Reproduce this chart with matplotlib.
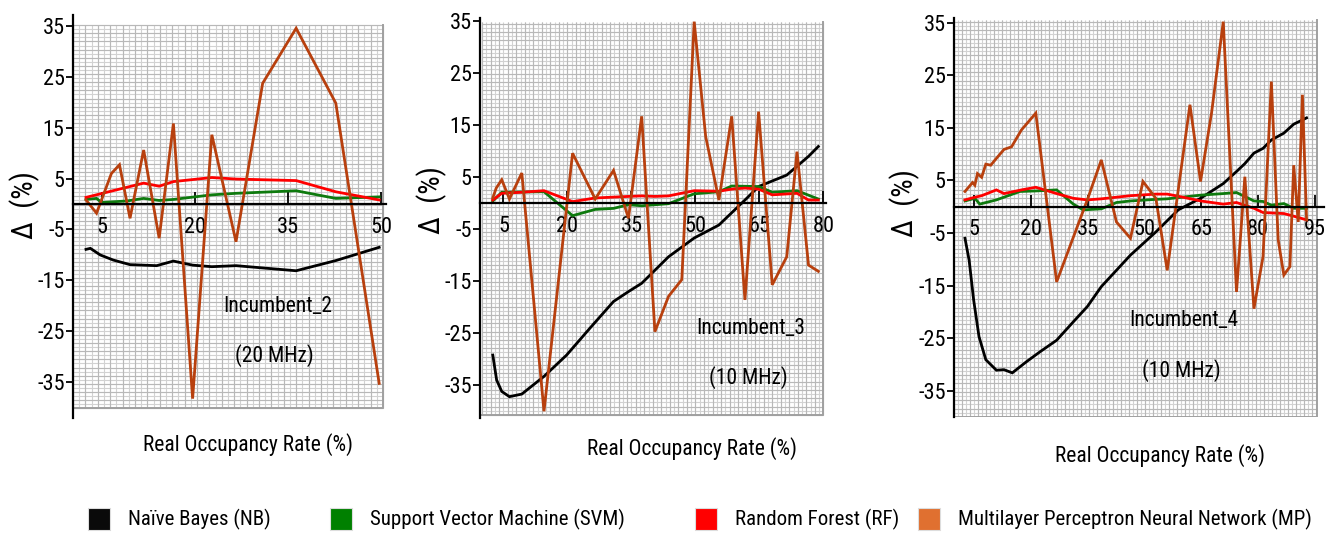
import numpy as np
import matplotlib
matplotlib.use("Agg")
import matplotlib.pyplot as plt
from matplotlib.patches import Rectangle

plt.rcParams['font.family'] = ['Roboto Condensed', 'Archivo Narrow', 'PT Sans Narrow',
                               'DejaVu Sans']

# Incumbent_2 (20 MHz)
p1_nb_x = [2.4, 3.1, 4.7, 6.8, 9.5, 13.8, 16.5, 19.6, 22.7, 26.6, 36.3, 42.7, 49.7]
p1_nb_y = [-8.9, -8.7, -10.0, -11.0, -11.9, -12.1, -11.2, -12.0, -12.3, -12.1, -13.1, -11.1, -8.5]
p1_svm_x = [2.4, 4.1, 4.9, 9.0, 11.7, 14.2, 16.5, 22.7, 26.6, 36.3, 42.7, 49.7]
p1_svm_y = [0.9, 1.1, 0.3, 0.6, 1.1, 0.7, 0.9, 1.8, 2.1, 2.6, 1.1, 1.4]
p1_rf_x = [2.4, 11.7, 14.2, 16.5, 22.7, 26.6, 36.3, 42.7, 49.7]
p1_rf_y = [1.3, 4.1, 3.5, 4.4, 5.2, 4.9, 4.6, 2.4, 0.8]
p1_mp_x = [2.4, 4.1, 6.5, 7.8, 9.5, 11.7, 14.2, 16.5, 19.6, 22.7, 26.6, 30.9, 36.3, 42.7, 49.7]
p1_mp_y = [0.8, -1.8, 6.0, 7.7, -2.8, 10.6, -6.7, 15.8, -38.2, 13.6, -7.4, 23.7, 34.5, 19.8, -35.2]

# Incumbent_3 (10 MHz)
p2_nb_x = [2.5, 3.4, 4.6, 6.4, 9.3, 14.5, 19.8, 25.3, 30.8, 34.3, 37.4, 43.7, 49.7,
           55.5, 61.6, 64.8, 71.4, 76.5, 78.8]
p2_nb_y = [-29.2, -34.0, -36.2, -37.2, -36.7, -33.3, -29.2, -24.0, -18.9, -17.0, -15.4,
           -10.3, -6.7, -4.2, 0.6, 3.2, 5.4, 9.0, 10.9]
p2_svm_x = [2.5, 4.6, 14.5, 21.2, 26.5, 30.8, 34.3, 37.4, 43.7, 49.7, 55.5, 58.5, 64.8,
            68.0, 73.8, 78.8]
p2_svm_y = [0.4, 2.1, 2.2, -2.4, -1.2, -1.0, -0.3, -0.5, -0.1, 1.8, 2.2, 3.3, 3.2,
            2.1, 2.4, 0.8]
p2_rf_x = [2.5, 4.6, 9.3, 14.5, 21.2, 26.5, 34.3, 37.4, 40.5, 43.7, 49.7, 55.5, 58.5,
           61.6, 64.8, 68.0, 73.8, 76.5, 78.8]
p2_rf_y = [0.6, 1.9, 2.1, 2.4, 0.3, 1.0, 1.3, 1.4, 1.3, 1.4, 2.4, 2.3, 2.7,
           2.9, 2.7, 1.6, 1.9, 0.6, 0.6]
p2_mp_x = [2.5, 3.3, 4.6, 6.4, 9.3, 14.5, 21.2, 26.5, 30.8, 34.3, 37.4, 40.5, 43.7,
           46.8, 49.7, 52.4, 55.5, 58.5, 61.6, 64.8, 68.0, 71.4, 73.8, 76.5, 78.8]
p2_mp_y = [1.0, 2.9, 4.5, 0.8, 5.8, -40.0, 9.6, 0.8, 6.3, -2.9, 16.7, -24.7, -17.9,
           -14.7, 34.9, 12.8, 0.6, 16.7, -18.6, 17.6, -15.7, -10.3, 9.9, -11.9, -13.1]

# Incumbent_4 (10 MHz)
p3_nb_x = [2.6, 3.7, 4.9, 6.3, 8.1, 10.9, 12.9, 15.1, 18.8, 22.4, 26.8, 31.2, 34.9,
           38.6, 46.3, 53.0, 58.9, 64.8, 70.8, 74.3, 76.5, 78.9, 81.3, 83.5, 86.8,
           89.4, 92.8]
p3_nb_y = [-6.0, -10.2, -17.8, -24.7, -29.1, -31.1, -31.0, -31.6, -29.5, -27.6, -25.4,
           -21.9, -19.0, -15.2, -9.2, -4.8, -0.6, 1.6, 4.4, 6.7, 8.2, 10.2, 11.1,
           12.7, 14.0, 15.7, 16.9]
p3_svm_x = [2.6, 5.2, 6.5, 10.9, 17.1, 21.3, 26.8, 31.2, 33.8, 38.6, 42.6, 46.3, 53.0,
            56.0, 64.8, 70.8, 74.3, 78.9, 81.3, 83.5, 86.8, 89.4, 92.8]
p3_svm_y = [1.1, 1.6, 0.5, 1.3, 2.9, 3.0, 3.2, 0.5, -0.6, -0.4, 0.8, 1.1, 1.4,
            1.5, 2.2, 2.5, 2.7, 1.1, 1.0, 0.3, 0.6, -0.3, -0.3]
p3_rf_x = [2.6, 5.2, 7.0, 10.9, 12.9, 17.5, 21.3, 26.8, 31.2, 34.9, 38.6, 46.3, 53.0,
           56.0, 58.9, 64.8, 70.8, 74.3, 78.9, 81.3, 86.8, 89.4, 92.8]
p3_rf_y = [1.3, 1.8, 2.1, 3.2, 2.5, 3.2, 3.7, 2.5, 1.6, 1.3, 1.5, 2.1, 2.4,
           2.4, 2.0, 1.1, 0.5, 0.8, -0.3, -1.1, -1.3, -1.8, -2.5]
p3_mp_x = [2.6, 4.6, 5.2, 5.9, 7.0, 8.1, 9.4, 10.9, 12.9, 14.9, 17.5, 21.3, 26.8, 34.9,
           38.6, 42.6, 46.3, 49.6, 53.0, 56.0, 62.0, 64.8, 67.7, 70.8, 74.3, 76.5,
           78.9, 81.3, 83.5, 85.3, 86.8, 88.4, 89.4, 90.6, 91.7, 92.8]
p3_mp_y = [2.9, 4.6, 4.1, 6.3, 5.6, 8.1, 7.9, 9.2, 10.9, 11.4, 14.6, 17.8, -14.3, 1.3,
           8.9, -2.9, -6.0, 4.8, 1.6, -12.1, 19.4, 4.8, 17.8, 35.2, -16.2, 5.7,
           -19.4, -9.5, 23.8, -6.3, -13.0, -11.4, 7.9, -2.9, 21.3, -2.5]

ytick_vals = [35, 25, 15, 5, -5, -15, -25, -35]

series_names = ['Naïve Bayes (NB)', 'Support Vector Machine (SVM)',
                'Random Forest (RF)', 'Multilayer Perceptron Neural Network (MP)']
line_colors = ['#000000', '#0e7a0e', '#ff0000', '#b8400e']
legend_colors = ['#0a0a0a', '#008000', '#ff0000', '#e07030']

W, H = 1333, 540
fig = plt.figure(figsize=(W / 100, H / 100), dpi=100)


def px_rect(left, top, right, bottom):
    return [left / W, 1 - bottom / H, (right - left) / W, (bottom - top) / H]


def draw_panel(rect, xlim, ylim, grid_box, dx, dy, xticks, curves, note, note_xy):
    ax = fig.add_axes(px_rect(*rect))
    ax.set_xlim(*xlim)
    ax.set_ylim(*ylim)
    ax.patch.set_alpha(0)

    # fine graph-paper grid, every other line a shade darker
    gx0, gx1, gy0, gy1 = grid_box
    xs = np.arange(gx0, gx1 + 1e-6, dx)
    ys = np.arange(gy0, gy1 + 1e-6, dy)
    ax.vlines(xs, gy0, gy1, color='#d2d2d2', lw=0.8, zorder=0)
    ax.hlines(ys, gx0, gx1, color='#d2d2d2', lw=0.8, zorder=0)
    ax.vlines(xs[::2], gy0, gy1, color='#b8b8b8', lw=0.8, zorder=0)
    ax.hlines(ys[::2], gx0, gx1, color='#b8b8b8', lw=0.8, zorder=0)
    ax.plot([gx0, gx1, gx1], [gy0, gy0, gy1], color='#a0a0a0', lw=1.4, zorder=0)

    for (cx, cy), c in zip(curves, line_colors):
        ax.plot(cx, cy, color=c, lw=2.0, zorder=3, solid_joinstyle='miter')

    ax.spines['top'].set_visible(False)
    ax.spines['right'].set_visible(False)
    ax.spines['bottom'].set_position(('data', 0))
    ax.spines['left'].set_linewidth(1.6)
    ax.spines['bottom'].set_linewidth(1.6)
    ax.spines['left'].set_zorder(4)
    ax.spines['bottom'].set_zorder(4)

    ax.set_xticks(xticks)
    ax.set_xticklabels([str(v) for v in xticks])
    ax.tick_params(axis='x', direction='in', length=9, width=1.3, pad=9,
                   labelsize=16)
    ax.set_yticks(ytick_vals)
    ax.set_yticklabels([str(v) for v in ytick_vals])
    ax.tick_params(axis='y', direction='out', length=5, width=1.3, pad=1,
                   labelsize=16)

    ax.text(note_xy[0], note_xy[1], note[0], ha='center', va='center', fontsize=15.5)
    ax.text(note_xy[0] - 0.6, note_xy[1] - 9.5, note[1], ha='center', va='center',
            fontsize=15.5)
    return ax


draw_panel((73, 15, 386, 418), (0.3, 50.8), (-42.0, 37.1), (0.3, 50.3, -40.1, 35.2),
           1.0, 0.8, [5, 20, 35, 50],
           [(p1_nb_x, p1_nb_y), (p1_svm_x, p1_svm_y), (p1_rf_x, p1_rf_y),
            (p1_mp_x, p1_mp_y)],
           ('Incumbent_2', '(20 MHz)'), (33.4, -20.2))

draw_panel((480, 18, 826, 418), (-0.5, 80.6), (-41.3, 35.6), (0.0, 80.0, -40.7, 34.8),
           1.0, 0.8, [5, 20, 35, 50, 65, 80],
           [(p2_nb_x, p2_nb_y), (p2_svm_x, p2_svm_y), (p2_rf_x, p2_rf_y),
            (p2_mp_x, p2_mp_y)],
           ('Incumbent_3', '(10 MHz)'), (63.0, -24.0))

draw_panel((954, 18, 1324, 417), (-0.3, 97.4), (-40.0, 35.9), (-0.3, 95.5, -40.0, 35.5),
           1.05, 0.8, [5, 20, 35, 50, 65, 80, 95],
           [(p3_nb_x, p3_nb_y), (p3_svm_x, p3_svm_y), (p3_rf_x, p3_rf_y),
            (p3_mp_x, p3_mp_y)],
           ('Incumbent_4', '(10 MHz)'), (60.4, -21.6))

# axis titles
for x, y in [(25, 205), (432, 200), (905, 203)]:
    fig.text(x / W, 1 - y / H, 'Δ  (%)', rotation=90, ha='center', va='center',
             fontsize=21)
for x, y in [(248, 445), (692, 449), (1160, 456)]:
    fig.text(x / W, 1 - y / H, 'Real Occupancy Rate (%)', ha='center', va='center',
             fontsize=15.5)

# legend row
legend_sq = [88, 330, 695, 918]
for sx, name, c in zip(legend_sq, series_names, legend_colors):
    fig.patches.append(Rectangle((sx / W, 1 - 530 / H), 22 / W, 22 / H,
                                 transform=fig.transFigure, facecolor=c,
                                 edgecolor='#dddddd', lw=0.8))
    fig.text((sx + 40) / W, 1 - 519 / H, name, ha='left', va='center', fontsize=15)

fig.savefig('out.png', dpi=100)
